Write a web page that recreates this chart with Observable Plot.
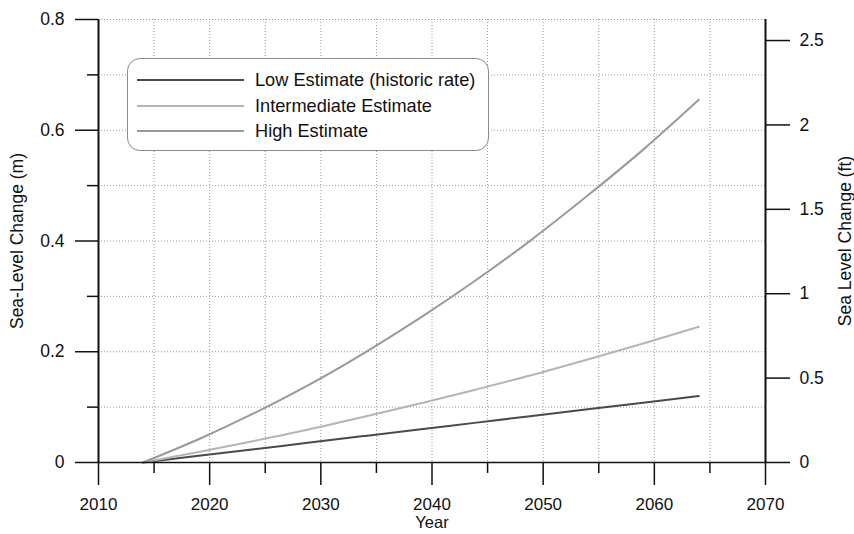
<!DOCTYPE html>
<html>
<head>
<meta charset="utf-8">
<script src="https://cdn.jsdelivr.net/npm/d3@7"></script>
<script src="https://cdn.jsdelivr.net/npm/@observablehq/plot@0.6"></script>
<style>
  html, body { margin: 0; padding: 0; background: #fff; }
  #wrap { position: relative; width: 854px; height: 534px; font-family: "Liberation Sans", Arial, sans-serif; }
  #legend { position: absolute; left: 127px; top: 58px; width: 362px; height: 93px; border: 1px solid #8a8a8a; border-radius: 13px; background: #fff; box-sizing: border-box; }
  .row { position: absolute; left: 0; height: 20px; display: flex; align-items: center; }
  .row svg { margin-left: 9px; }
  .row span { margin-left: 11px; font-size: 18.2px; color: #111; white-space: nowrap; }
</style>
</head>
<body>
<div id="wrap"></div>
<script>
// ---- data ----
const years = [2014, 2019, 2024, 2029, 2034, 2039, 2044, 2049, 2054, 2059, 2064];
const lowEstimate = [0, 0.012, 0.024, 0.036, 0.048, 0.060, 0.072, 0.084, 0.096, 0.108, 0.120];
const intermediateEstimate = [0, 0.019, 0.039, 0.060, 0.083, 0.107, 0.132, 0.158, 0.186, 0.215, 0.245];
const highEstimate = [0, 0.042, 0.089, 0.141, 0.199, 0.262, 0.330, 0.403, 0.482, 0.565, 0.655];
const seriesNames = ["Low Estimate (historic rate)", "Intermediate Estimate", "High Estimate"];
const seriesColors = ["#4a4a4a", "#b5b5b5", "#9a9a9a"];
const xMajorTicks = [2010, 2020, 2030, 2040, 2050, 2060, 2070];
const xMinorTicks = [2015, 2025, 2035, 2045, 2055, 2065];
const yMajorTicks = [0, 0.2, 0.4, 0.6, 0.8];
const yMinorTicks = [0.1, 0.3, 0.5, 0.7];
const ftTicks = [0, 0.5, 1, 1.5, 2, 2.5];
const M_PER_FT = 0.3048;
const xLabel = "Year";
const yLabelLeft = "Sea-Level Change (m)";
const yLabelRight = "Sea Level Change (ft)";

const seriesValues = [lowEstimate, intermediateEstimate, highEstimate];
const rows = [];
seriesNames.forEach((name, s) => years.forEach((yr, i) => rows.push({year: yr, value: seriesValues[s][i], series: name})));

const gridX = [2015, 2020, 2025, 2030, 2035, 2040, 2045, 2050, 2055, 2060, 2065];
const gridY = [0.1, 0.2, 0.3, 0.4, 0.5, 0.6, 0.7, 0.8];
const FS = 17.5;

const chart = Plot.plot({
  width: 854,
  height: 534,
  marginLeft: 98,
  marginRight: 89,
  marginTop: 19,
  marginBottom: 72,
  style: {fontFamily: "'Liberation Sans', Arial, sans-serif", fontSize: FS + "px", color: "#111", background: "#fff"},
  x: {domain: [2010, 2070]},
  y: {domain: [0, 0.8]},
  color: {domain: seriesNames, range: seriesColors},
  marks: [
    Plot.ruleX(gridX, {stroke: "#9a9a9a", strokeWidth: 1, strokeDasharray: "1,2"}),
    Plot.ruleY(gridY, {stroke: "#9a9a9a", strokeWidth: 1, strokeDasharray: "1,2"}),
    Plot.line(rows, {x: "year", y: "value", z: "series", stroke: "series", strokeWidth: 2, curve: "monotone-x"}),
    Plot.ruleX([2010, 2070], {stroke: "#111", strokeWidth: 2}),
    Plot.ruleY([0], {stroke: "#111", strokeWidth: 1.5}),
    Plot.axisX(xMajorTicks, {tickSize: 23, tickPadding: 12, fontSize: 17, tickFormat: d => String(d), label: null, stroke: "#111", strokeWidth: 1.5}),
    Plot.axisX(xMinorTicks, {tickSize: 11, tickFormat: () => "", label: null, stroke: "#111", strokeWidth: 1.5}),
    Plot.axisY(yMajorTicks, {anchor: "left", tickSize: 23, tickPadding: 11, fontSize: FS, tickFormat: d => (d === 0 ? "0" : d.toFixed(1)), label: null, stroke: "#111", strokeWidth: 1.5}),
    Plot.axisY(yMinorTicks, {anchor: "left", tickSize: 11, tickFormat: () => "", label: null, stroke: "#111", strokeWidth: 1.5}),
    Plot.axisY(ftTicks.map(f => f * M_PER_FT), {anchor: "right", tickSize: 24, tickPadding: 10, fontSize: FS, tickFormat: d => String(+(d / M_PER_FT).toFixed(1)), label: null, stroke: "#111", strokeWidth: 1.5}),
    Plot.text([xLabel], {frameAnchor: "bottom", lineAnchor: "middle", textAnchor: "middle", dy: 60, fontSize: 16.5, fill: "#111"}),
    Plot.text([yLabelLeft], {frameAnchor: "left", textAnchor: "middle", lineAnchor: "middle", dx: -81, rotate: -90, fontSize: FS, fill: "#111"}),
    Plot.text([yLabelRight], {frameAnchor: "right", textAnchor: "middle", lineAnchor: "middle", dx: 80, rotate: -90, fontSize: FS, fill: "#111"})
  ]
});

const wrap = document.getElementById("wrap");
wrap.appendChild(chart);

// legend overlay
const legend = document.createElement("div");
legend.id = "legend";
const rowTops = [11, 37, 62];
seriesNames.forEach((name, i) => {
  const r = document.createElement("div");
  r.className = "row";
  r.style.top = rowTops[i] + "px";
  r.innerHTML = `<svg width="107" height="6"><line x1="0" y1="3" x2="107" y2="3" stroke="${seriesColors[i]}" stroke-width="2"/></svg><span>${name}</span>`;
  legend.appendChild(r);
});
wrap.appendChild(legend);
</script>
</body>
</html>
